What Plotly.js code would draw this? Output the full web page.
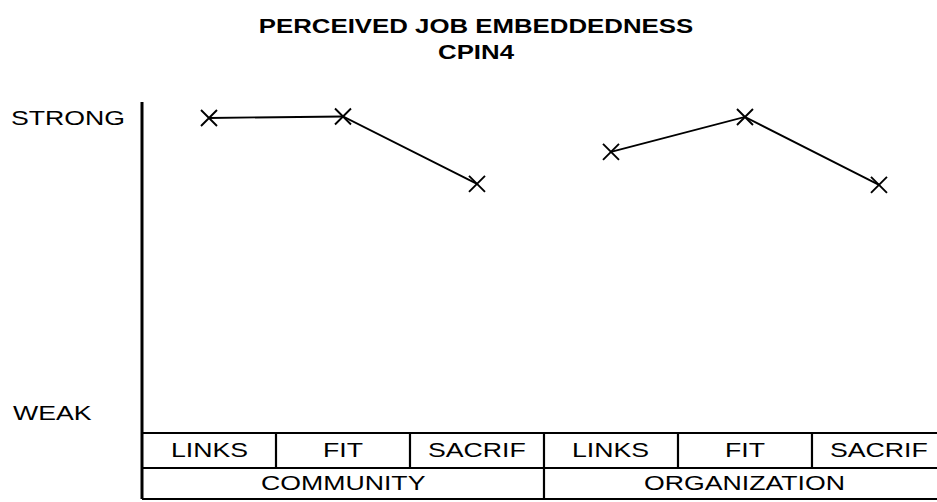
<!DOCTYPE html>
<html>
<head>
<meta charset="utf-8">
<script src="https://cdn.plot.ly/plotly-3.0.1.min.js"></script>
<style>
  html, body { margin: 0; padding: 0; background: #fff; }
  #chart { width: 937px; height: 502px; }
  .annotation-text { transform-box: fill-box; transform-origin: center; transform: scaleX(1.27); }
  .gtitle { transform-box: fill-box; transform-origin: center; transform: scaleX(1.29); }
</style>
</head>
<body>
<div id="chart"></div>
<script>
// ---- data ----
const categories = ['LINKS', 'FIT', 'SACRIF', 'LINKS', 'FIT', 'SACRIF'];
const groups = ['COMMUNITY', 'ORGANIZATION'];
const community = [7.0, 7.03, 5.66];
const organization = [6.31, 7.02, 5.64];
const yTickVals = [1, 7];
const yTickText = ['WEAK', 'STRONG'];

const nPer = 3;
const xCommunity = community.map((_, i) => i);
const xOrganization = organization.map((_, i) => i + nPer);

const lineStyle = { color: '#000', width: 1.8 };
const markerStyle = { symbol: 'x-thin-open', size: 16, color: '#000', line: { color: '#000', width: 1.9 } };

const traces = [
  { x: xCommunity, y: community, mode: 'lines+markers', line: lineStyle, marker: markerStyle, hoverinfo: 'skip' },
  { x: xOrganization, y: organization, mode: 'lines+markers', line: lineStyle, marker: markerStyle, hoverinfo: 'skip' }
];

// table geometry (paper units relative to plot area)
const row1Top = 0, row1Bot = -0.1057, row2Bot = -0.1994;
const row1Mid = (row1Top + row1Bot) / 2, row2Mid = (row1Bot + row2Bot) / 2;

const shapes = [];
// y axis line through the table
shapes.push({ type: 'line', xref: 'paper', yref: 'paper', x0: 0, x1: 0, y0: row2Bot, y1: 1, line: { color: '#000', width: 3 } });
// horizontal table lines
[row1Top, row1Bot, row2Bot].forEach(y => {
  shapes.push({ type: 'line', xref: 'paper', yref: 'paper', x0: 0, x1: 1.05, y0: y, y1: y, line: { color: '#000', width: 2.2 } });
});
// vertical dividers
for (let i = 0; i < categories.length - 1; i++) {
  const isGroupEdge = (i + 1) % nPer === 0;
  shapes.push({ type: 'line', xref: 'x', yref: 'paper', x0: i + 0.5, x1: i + 0.5,
    y0: row1Top, y1: isGroupEdge ? row2Bot : row1Bot, line: { color: '#000', width: 2.2 } });
}

const labelFont = { family: 'Arial, Liberation Sans, sans-serif', size: 21, color: '#000' };
const annotations = [];
categories.forEach((c, i) => {
  annotations.push({ text: c, x: i, xref: 'x', y: row1Mid, yref: 'paper', showarrow: false, xanchor: 'center', yanchor: 'middle', font: labelFont });
});
groups.forEach((g, gi) => {
  annotations.push({ text: g, x: gi * nPer + (nPer - 1) / 2, xref: 'x', y: row2Mid, yref: 'paper', showarrow: false, xanchor: 'center', yanchor: 'middle', font: labelFont });
});
// y labels
const yLabelX = [-0.1132, -0.0931];
yTickVals.forEach((v, i) => {
  annotations.push({ text: yTickText[i], x: yLabelX[i], xref: 'paper', y: v, yref: 'y', showarrow: false, xanchor: 'center', yanchor: 'middle', font: labelFont });
});

const layout = {
  width: 937, height: 502,
  margin: { l: 142, r: 0, t: 102, b: 69 },
  paper_bgcolor: '#fff', plot_bgcolor: '#fff',
  showlegend: false, hovermode: false,
  title: {
    text: '<b>PERCEIVED JOB EMBEDDEDNESS<br>CPIN4</b>',
    font: { family: 'Arial, Liberation Sans, sans-serif', size: 20, color: '#000' },
    x: 476 / 937, xref: 'container', xanchor: 'center',
    y: 0.934, yref: 'container', yanchor: 'top'
  },
  xaxis: { range: [-0.5, 5.433], showgrid: false, zeroline: false, showline: false, showticklabels: false, ticks: '', fixedrange: true },
  yaxis: { range: [0.593, 7.325], showgrid: false, zeroline: false, showline: false, showticklabels: false, ticks: '', fixedrange: true },
  shapes: shapes,
  annotations: annotations
};

Plotly.newPlot('chart', traces, layout, { displayModeBar: false, staticPlot: true });
</script>
</body>
</html>
